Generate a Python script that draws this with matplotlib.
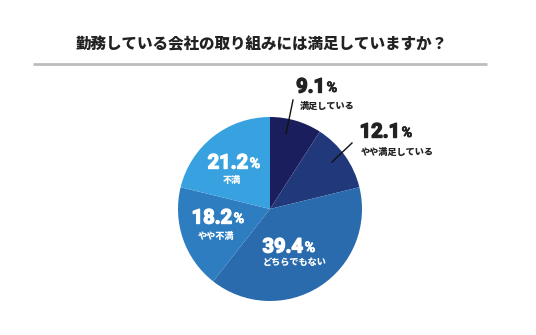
import matplotlib
matplotlib.use('Agg')
import matplotlib.pyplot as plt
import matplotlib.patheffects as pe

plt.rcParams['font.family'] = ['Noto Sans CJK JP', 'DejaVu Sans']

# data (clockwise from 12 o'clock)
labels = ['満足している', 'やや満足している', 'どちらでもない', 'やや不満', '不満']
values = [9.1, 12.1, 39.4, 18.2, 21.2]
title = '勤務している会社の取り組みには満足していますか？'

colors = ['#1b1e5d', '#21397b', '#2a6bad', '#2d7dc0', '#37a2df']
# label anchors in pixel coords (x of number/percent split, y of number, y of caption)
lab_pos = [(326, 87, 106), (401, 132, 152), (304, 247, 262), (233, 218, 236), (249, 163, 181)]
cap_x = [327, 397, 295, 216, 232]
txt_col = ['#222222', '#222222', 'white', 'white', 'white']
# leader lines for the two small slices (slice point -> label)
leaders = {0: ((286, 134), (293, 100)), 1: ((332, 162), (352, 143))}

W, H = 536, 335
fig = plt.figure(figsize=(W / 100, H / 100), dpi=100)
ax = fig.add_axes([0, 0, 1, 1])

# y axis is inverted, so counterclock in data space runs clockwise on screen
ax.pie(values, colors=colors, startangle=-90, counterclock=True,
       center=(270, 209), radius=92, frame=True,
       wedgeprops=dict(linewidth=0))
ax.set_xlim(0, W)
ax.set_ylim(H, 0)
ax.set_aspect('equal')
ax.axis('off')

# title and rule
ax.text(262, 45, title, ha='center', va='center', fontsize=11.2,
        fontweight='black', color='#222222')
ax.plot([33, 487], [64, 64], color='#bdbdbd', linewidth=2, solid_capstyle='butt')

for i, (lab, v) in enumerate(zip(labels, values)):
    xs, yn, yc = lab_pos[i]
    ax.text(xs - 1, yn, f'{v:.1f}', ha='right', va='center', fontsize=14.5,
            fontweight='bold', family='Roboto', color=txt_col[i],
            path_effects=[pe.withStroke(linewidth=1.0, foreground=txt_col[i])])
    ax.text(xs + 0.5, yn + 1, '%', ha='left', va='center', fontsize=10.5,
            fontweight='bold', family='Roboto', color=txt_col[i],
            path_effects=[pe.withStroke(linewidth=0.5, foreground=txt_col[i])])
    ax.text(cap_x[i], yc, lab, ha='center', va='center', fontsize=6.6,
            fontweight='black', color=txt_col[i])

for i, (p0, p1) in leaders.items():
    ax.plot([p0[0], p1[0]], [p0[1], p1[1]], color='#111111', linewidth=1)

fig.savefig('out.png', dpi=100, facecolor='white')
